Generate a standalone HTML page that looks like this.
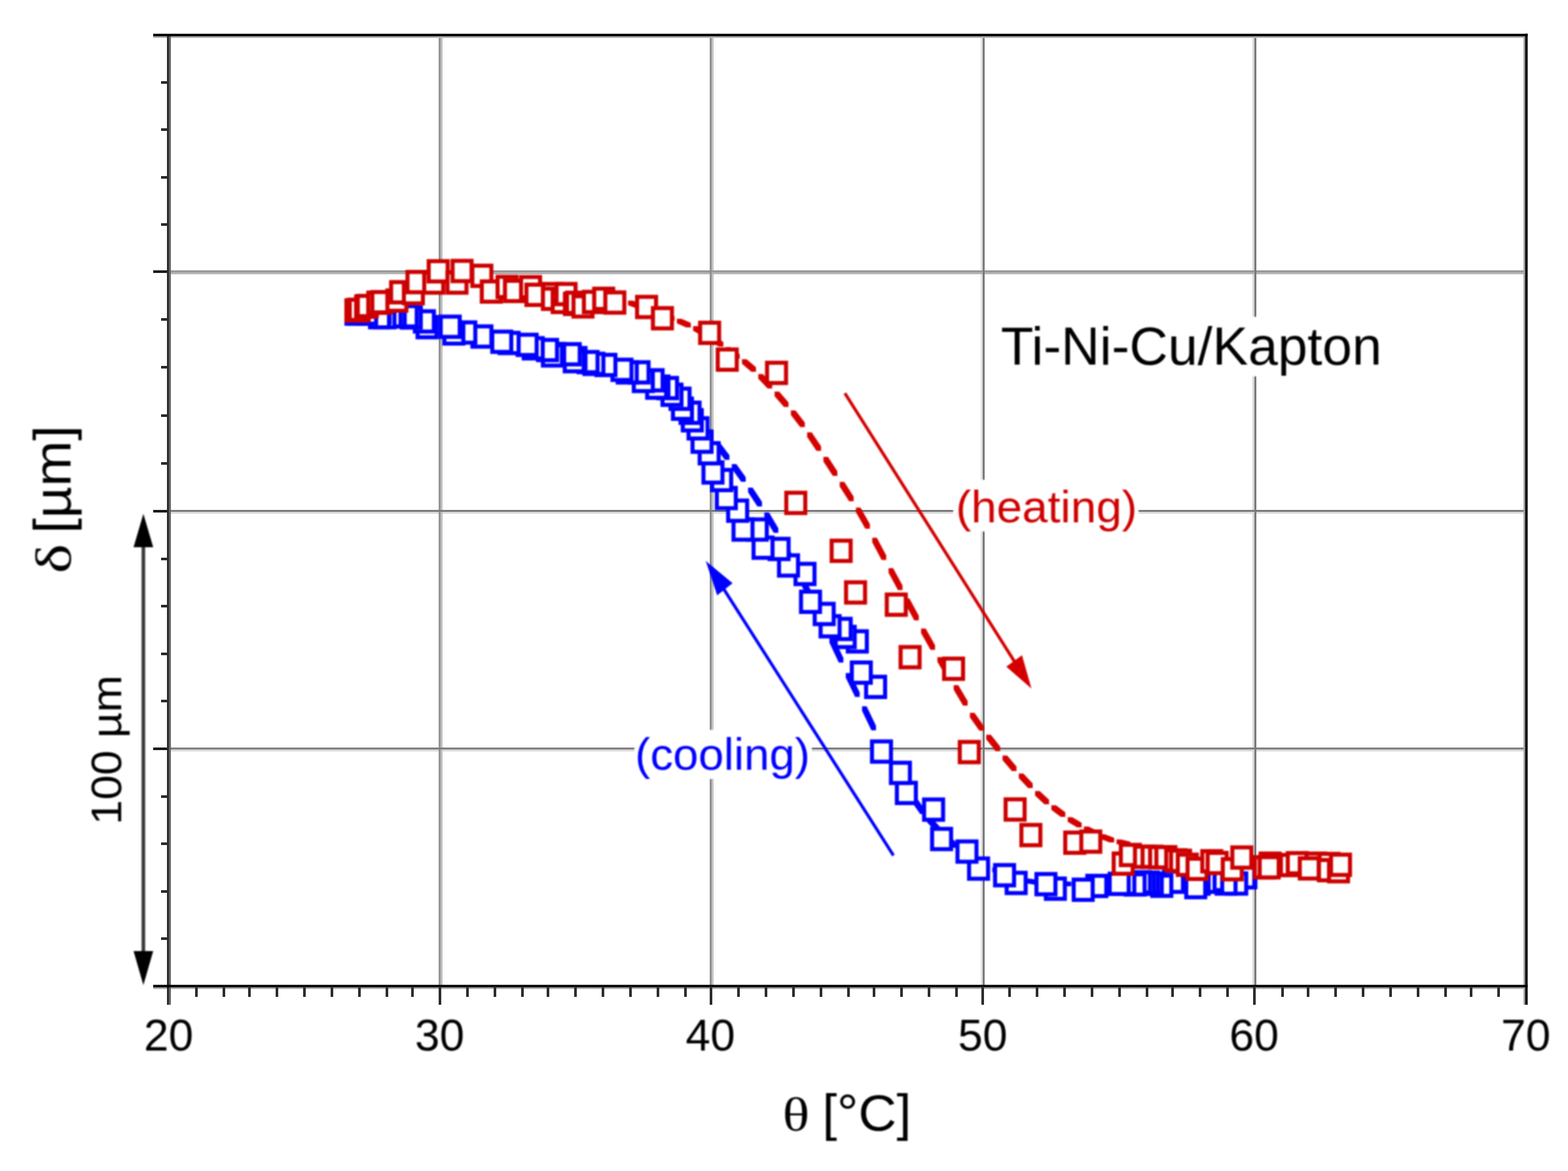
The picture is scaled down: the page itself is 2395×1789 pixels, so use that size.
<!DOCTYPE html>
<html lang="en">
<head>
<meta charset="utf-8">
<title>Ti-Ni-Cu/Kapton deflection vs temperature</title>
<style>
html, body { margin: 0; padding: 0; background: #ffffff; }
body { width: 2395px; height: 1789px; overflow: hidden; }
svg { display: block; }
text { white-space: pre; }
</style>
</head>
<body>
<svg width="2395" height="1789" viewBox="0 0 2395 1789">
<defs><filter id="soften" color-interpolation-filters="sRGB" x="0" y="0" width="2395" height="1789" filterUnits="userSpaceOnUse"><feGaussianBlur stdDeviation="0.9"/></filter></defs>
<rect x="0" y="0" width="2395" height="1789" fill="#ffffff"/>
<g id="grid" shape-rendering="crispEdges">
<rect x="1498" y="55" width="3" height="1451" fill="#e0e0e0"/>
<rect x="258" y="782" width="2072" height="3" fill="#dcdcdc"/>
<rect x="1913" y="55" width="3" height="1451" fill="#d8d8d8"/>
<rect x="258" y="1145" width="2072" height="3" fill="#d8d8d8"/>
<rect x="1087" y="55" width="3" height="1451" fill="#c4c4c4"/>
<rect x="673" y="55" width="3" height="1451" fill="#c0c0c0"/>
<rect x="258" y="416" width="2072" height="3" fill="#b4b4b4"/>
<rect x="258" y="413" width="2072" height="3" fill="#999999"/>
<rect x="670" y="55" width="3" height="1451" fill="#949494"/>
<rect x="1084" y="55" width="3" height="1451" fill="#909090"/>
<rect x="258" y="1142" width="2072" height="3" fill="#808080"/>
<rect x="258" y="779" width="2072" height="3" fill="#7c7c7c"/>
<rect x="1501" y="55" width="3" height="1451" fill="#7a7a7a"/>
<rect x="1916" y="55" width="3" height="1451" fill="#7a7a7a"/>
</g>
<g id="plot" filter="url(#soften)">
<g id="cooling-fit" fill="#0000ff">
<polygon points="1043.1,607.8 1050.1,607.8 1064.4,627.8 1064.4,634.8 1057.4,634.8 1043.1,614.8"/>
<polygon points="1068.0,642.6 1075.0,642.6 1089.3,662.3 1089.3,669.3 1082.3,669.3 1068.0,649.6"/>
<polygon points="1092.8,676.4 1099.8,676.4 1114.2,695.4 1114.2,702.4 1107.2,702.4 1092.8,683.4"/>
<polygon points="1117.7,709.1 1124.7,709.1 1139.0,729.0 1139.0,736.0 1132.0,736.0 1117.7,716.1"/>
<polygon points="1142.6,745.0 1149.6,745.0 1163.9,766.7 1163.9,773.7 1156.9,773.7 1142.6,752.0"/>
<polygon points="1167.5,782.7 1174.5,782.7 1188.8,807.1 1188.8,814.1 1181.8,814.1 1167.5,789.7"/>
<polygon points="1192.3,827.1 1199.3,827.1 1213.6,854.1 1213.6,861.1 1206.6,861.1 1192.3,834.1"/>
<polygon points="1217.2,874.0 1224.2,874.0 1238.5,901.8 1238.5,908.8 1231.5,908.8 1217.2,881.0"/>
<polygon points="1242.1,923.6 1249.1,923.6 1263.4,953.1 1263.4,960.1 1256.4,960.1 1242.1,930.6"/>
<polygon points="1266.9,974.9 1273.9,974.9 1288.2,1005.2 1288.2,1012.2 1281.2,1012.2 1266.9,981.9"/>
<polygon points="1291.8,1028.2 1298.8,1028.2 1313.1,1057.8 1313.1,1064.8 1306.1,1064.8 1291.8,1035.2"/>
<polygon points="1316.7,1078.9 1323.7,1078.9 1338.0,1108.7 1338.0,1115.7 1331.0,1115.7 1316.7,1085.9"/>
<polygon points="1341.5,1131.5 1348.5,1131.5 1362.9,1158.5 1362.9,1165.5 1355.9,1165.5 1341.5,1138.5"/>
<polygon points="1366.4,1175.7 1373.4,1175.7 1387.7,1199.0 1387.7,1206.0 1380.7,1206.0 1366.4,1182.7"/>
<polygon points="1391.3,1216.2 1398.3,1216.2 1412.6,1236.8 1412.6,1243.8 1405.6,1243.8 1391.3,1223.2"/>
<polygon points="1416.2,1249.5 1423.2,1249.5 1437.5,1264.9 1437.5,1271.9 1430.5,1271.9 1416.2,1256.5"/>
<polygon points="1441.0,1275.8 1448.0,1275.8 1462.3,1288.3 1462.3,1295.3 1455.3,1295.3 1441.0,1282.8"/>
<polygon points="1465.9,1296.4 1472.9,1296.4 1487.2,1306.6 1487.2,1313.6 1480.2,1313.6 1465.9,1303.4"/>
<polygon points="1490.8,1312.6 1497.8,1312.6 1512.1,1320.7 1512.1,1327.7 1505.1,1327.7 1490.8,1319.6"/>
<polygon points="1515.6,1325.2 1522.6,1325.2 1536.9,1330.9 1536.9,1337.9 1529.9,1337.9 1515.6,1332.2"/>
<polygon points="1540.5,1334.7 1547.5,1334.7 1561.8,1339.0 1561.8,1346.0 1554.8,1346.0 1540.5,1341.7"/>
<polygon points="1565.4,1342.2 1572.4,1342.2 1586.7,1344.4 1586.7,1351.4 1579.7,1351.4 1565.4,1349.2"/>
<polygon points="1590.2,1345.0 1597.2,1345.0 1611.6,1345.7 1611.6,1352.7 1604.6,1352.7 1590.2,1352.0"/>
<polygon points="1615.1,1346.3 1622.1,1346.3 1636.4,1347.0 1636.4,1354.0 1629.4,1354.0 1615.1,1353.3"/>
<polygon points="1640.0,1347.1 1647.0,1347.1 1661.3,1347.2 1661.3,1354.2 1654.3,1354.2 1640.0,1354.1"/>
<polygon points="1664.9,1347.3 1671.9,1347.3 1686.2,1347.4 1686.2,1354.4 1679.2,1354.4 1664.9,1354.3"/>
<polygon points="1689.7,1347.5 1696.7,1347.5 1711.0,1347.3 1711.0,1354.3 1704.0,1354.3 1689.7,1354.5"/>
<polygon points="1714.6,1347.0 1721.6,1347.0 1735.9,1346.6 1735.9,1353.6 1728.9,1353.6 1714.6,1354.0"/>
<polygon points="1739.5,1346.3 1746.5,1346.3 1760.8,1345.9 1760.8,1352.9 1753.8,1352.9 1739.5,1353.3"/>
<polygon points="1764.3,1345.6 1771.3,1345.6 1785.6,1345.3 1785.6,1352.3 1778.6,1352.3 1764.3,1352.6"/>
<polygon points="1789.2,1345.0 1796.2,1345.0 1810.5,1344.6 1810.5,1351.6 1803.5,1351.6 1789.2,1352.0"/>
<polygon points="1814.1,1344.3 1821.1,1344.3 1835.4,1343.9 1835.4,1350.9 1828.4,1350.9 1814.1,1351.3"/>
<polygon points="1838.9,1343.6 1845.9,1343.6 1860.2,1343.2 1860.2,1350.2 1853.2,1350.2 1838.9,1350.6"/>
<polygon points="1863.8,1342.9 1870.8,1342.9 1885.1,1342.5 1885.1,1349.5 1878.1,1349.5 1863.8,1349.9"/>
</g>
<g id="heating-fit" fill="#d40000">
<polygon points="934.4,451.3 941.4,451.3 955.7,455.9 955.7,462.9 948.7,462.9 934.4,458.3"/>
<polygon points="959.3,459.3 966.3,459.3 980.6,464.5 980.6,471.5 973.6,471.5 959.3,466.3"/>
<polygon points="984.1,468.5 991.1,468.5 1005.4,473.8 1005.4,480.8 998.4,480.8 984.1,475.5"/>
<polygon points="1009.0,477.7 1016.0,477.7 1030.3,483.1 1030.3,490.1 1023.3,490.1 1009.0,484.7"/>
<polygon points="1033.9,487.0 1040.9,487.0 1055.2,493.2 1055.2,500.2 1048.2,500.2 1033.9,494.0"/>
<polygon points="1058.7,498.3 1065.7,498.3 1080.0,506.4 1080.0,513.4 1073.0,513.4 1058.7,505.3"/>
<polygon points="1083.6,513.2 1090.6,513.2 1104.9,522.5 1104.9,529.5 1097.9,529.5 1083.6,520.2"/>
<polygon points="1108.5,530.3 1115.5,530.3 1129.8,540.9 1129.8,547.9 1122.8,547.9 1108.5,537.3"/>
<polygon points="1133.3,548.7 1140.3,548.7 1154.7,561.0 1154.7,568.0 1147.7,568.0 1133.3,555.7"/>
<polygon points="1158.2,571.4 1165.2,571.4 1179.5,586.5 1179.5,593.5 1172.5,593.5 1158.2,578.4"/>
<polygon points="1183.1,598.3 1190.1,598.3 1204.4,614.7 1204.4,621.7 1197.4,621.7 1183.1,605.3"/>
<polygon points="1208.0,627.1 1215.0,627.1 1229.3,645.5 1229.3,652.5 1222.3,652.5 1208.0,634.1"/>
<polygon points="1232.8,660.5 1239.8,660.5 1254.1,681.7 1254.1,688.7 1247.1,688.7 1232.8,667.5"/>
<polygon points="1257.7,698.0 1264.7,698.0 1279.0,720.0 1279.0,727.0 1272.0,727.0 1257.7,705.0"/>
<polygon points="1282.6,736.3 1289.6,736.3 1303.9,758.7 1303.9,765.7 1296.9,765.7 1282.6,743.3"/>
<polygon points="1307.4,775.6 1314.4,775.6 1328.7,800.7 1328.7,807.7 1321.7,807.7 1307.4,782.6"/>
<polygon points="1332.3,821.4 1339.3,821.4 1353.6,848.5 1353.6,855.5 1346.6,855.5 1332.3,828.4"/>
<polygon points="1357.2,868.1 1364.2,868.1 1378.5,894.6 1378.5,901.6 1371.5,901.6 1357.2,875.1"/>
<polygon points="1382.0,914.2 1389.0,914.2 1403.4,940.7 1403.4,947.7 1396.4,947.7 1382.0,921.2"/>
<polygon points="1406.9,960.3 1413.9,960.3 1428.2,985.8 1428.2,992.8 1421.2,992.8 1406.9,967.3"/>
<polygon points="1431.8,1004.0 1438.8,1004.0 1453.1,1028.6 1453.1,1035.6 1446.1,1035.6 1431.8,1011.0"/>
<polygon points="1456.7,1046.7 1463.7,1046.7 1478.0,1071.1 1478.0,1078.1 1471.0,1078.1 1456.7,1053.7"/>
<polygon points="1481.5,1088.9 1488.5,1088.9 1502.8,1109.3 1502.8,1116.3 1495.8,1116.3 1481.5,1095.9"/>
<polygon points="1506.4,1122.4 1513.4,1122.4 1527.7,1140.5 1527.7,1147.5 1520.7,1147.5 1506.4,1129.4"/>
<polygon points="1531.3,1154.2 1538.3,1154.2 1552.6,1170.9 1552.6,1177.9 1545.6,1177.9 1531.3,1161.2"/>
<polygon points="1556.1,1181.8 1563.1,1181.8 1577.4,1197.0 1577.4,1204.0 1570.4,1204.0 1556.1,1188.8"/>
<polygon points="1581.0,1208.5 1588.0,1208.5 1602.3,1221.7 1602.3,1228.7 1595.3,1228.7 1581.0,1215.5"/>
<polygon points="1605.9,1230.2 1612.9,1230.2 1627.2,1240.9 1627.2,1247.9 1620.2,1247.9 1605.9,1237.2"/>
<polygon points="1630.8,1248.4 1637.8,1248.4 1652.1,1257.1 1652.1,1264.1 1645.1,1264.1 1630.8,1255.4"/>
<polygon points="1655.6,1262.8 1662.6,1262.8 1676.9,1269.8 1676.9,1276.8 1669.9,1276.8 1655.6,1269.8"/>
<polygon points="1680.5,1274.5 1687.5,1274.5 1701.8,1279.9 1701.8,1286.9 1694.8,1286.9 1680.5,1281.5"/>
<polygon points="1705.4,1282.6 1712.4,1282.6 1726.7,1286.0 1726.7,1293.0 1719.7,1293.0 1705.4,1289.6"/>
</g>
<g id="cooling-pts" fill="#ffffff" stroke="#0000ff" stroke-width="6.2">
<rect x="1888.5" y="1324.5" width="29" height="31"/>
<rect x="1886.8" y="1324.8" width="29" height="31"/>
<rect x="1874.5" y="1334.3" width="29" height="31"/>
<rect x="1858.2" y="1334.3" width="29" height="31"/>
<rect x="1837.8" y="1328.9" width="29" height="31"/>
<rect x="1826.2" y="1331.6" width="29" height="31"/>
<rect x="1817.1" y="1334.5" width="29" height="31"/>
<rect x="1811.9" y="1339.8" width="29" height="31"/>
<rect x="1777.9" y="1331.6" width="29" height="31"/>
<rect x="1760.1" y="1337.7" width="29" height="31"/>
<rect x="1745.5" y="1334.5" width="29" height="31"/>
<rect x="1739.5" y="1333.0" width="29" height="31"/>
<rect x="1733.5" y="1334.5" width="29" height="31"/>
<rect x="1727.5" y="1332.5" width="29" height="31"/>
<rect x="1719.3" y="1335.7" width="29" height="31"/>
<rect x="1703.6" y="1334.3" width="29" height="31"/>
<rect x="1695.0" y="1334.8" width="29" height="31"/>
<rect x="1660.8" y="1338.0" width="29" height="31"/>
<rect x="1640.0" y="1343.8" width="29" height="31"/>
<rect x="1597.5" y="1342.2" width="29" height="31"/>
<rect x="1583.1" y="1335.3" width="29" height="31"/>
<rect x="1537.6" y="1333.4" width="29" height="31"/>
<rect x="1519.9" y="1321.6" width="29" height="31"/>
<rect x="1480.2" y="1311.5" width="29" height="31"/>
<rect x="1462.5" y="1285.5" width="29" height="31"/>
<rect x="1423.7" y="1266.3" width="29" height="31"/>
<rect x="1411.5" y="1221.4" width="29" height="31"/>
<rect x="1369.9" y="1195.9" width="29" height="31"/>
<rect x="1360.8" y="1165.3" width="29" height="31"/>
<rect x="1331.9" y="1132.7" width="29" height="31"/>
<rect x="1322.9" y="1033.9" width="29" height="31"/>
<rect x="1301.1" y="1012.1" width="29" height="31"/>
<rect x="1295.0" y="964.4" width="29" height="31"/>
<rect x="1276.5" y="957.6" width="29" height="31"/>
<rect x="1270.4" y="945.4" width="29" height="31"/>
<rect x="1253.4" y="941.3" width="29" height="31"/>
<rect x="1244.4" y="922.5" width="29" height="31"/>
<rect x="1223.5" y="903.9" width="29" height="31"/>
<rect x="1215.1" y="861.4" width="29" height="31"/>
<rect x="1189.9" y="848.4" width="29" height="31"/>
<rect x="1175.5" y="823.2" width="29" height="31"/>
<rect x="1151.0" y="821.2" width="29" height="31"/>
<rect x="1142.2" y="793.5" width="29" height="31"/>
<rect x="1120.4" y="793.5" width="29" height="31"/>
<rect x="1112.2" y="764.7" width="29" height="31"/>
<rect x="1094.9" y="745.4" width="29" height="31"/>
<rect x="1087.8" y="717.9" width="29" height="31"/>
<rect x="1074.5" y="706.3" width="29" height="31"/>
<rect x="1068.7" y="677.0" width="29" height="31"/>
<rect x="1057.8" y="659.3" width="29" height="31"/>
<rect x="1051.7" y="638.9" width="29" height="31"/>
<rect x="1042.9" y="626.6" width="29" height="31"/>
<rect x="1039.5" y="615.1" width="29" height="31"/>
<rect x="1027.9" y="608.9" width="29" height="31"/>
<rect x="1024.2" y="593.7" width="29" height="31"/>
<rect x="1011.9" y="587.6" width="29" height="31"/>
<rect x="1005.1" y="577.4" width="29" height="31"/>
<rect x="992.0" y="575.2" width="29" height="31"/>
<rect x="988.5" y="576.7" width="29" height="31"/>
<rect x="983.1" y="565.5" width="29" height="31"/>
<rect x="968.1" y="566.5" width="29" height="31"/>
<rect x="961.6" y="553.4" width="29" height="31"/>
<rect x="943.6" y="553.4" width="29" height="31"/>
<rect x="935.5" y="549.5" width="29" height="31"/>
<rect x="911.0" y="542.1" width="29" height="31"/>
<rect x="892.6" y="540.4" width="29" height="31"/>
<rect x="883.7" y="537.7" width="29" height="31"/>
<rect x="865.3" y="531.6" width="29" height="31"/>
<rect x="862.6" y="536.3" width="29" height="31"/>
<rect x="856.5" y="525.7" width="29" height="31"/>
<rect x="832.7" y="525.5" width="29" height="31"/>
<rect x="829.3" y="527.5" width="29" height="31"/>
<rect x="821.8" y="519.3" width="29" height="31"/>
<rect x="800.0" y="516.6" width="29" height="31"/>
<rect x="790.7" y="511.4" width="29" height="31"/>
<rect x="763.2" y="508.5" width="29" height="31"/>
<rect x="751.9" y="506.6" width="29" height="31"/>
<rect x="721.6" y="498.6" width="29" height="31"/>
<rect x="697.0" y="492.5" width="29" height="31"/>
<rect x="678.7" y="493.9" width="29" height="31"/>
<rect x="673.2" y="483.7" width="29" height="31"/>
<rect x="637.8" y="484.3" width="29" height="31"/>
<rect x="633.7" y="475.5" width="29" height="31"/>
<rect x="613.7" y="469.5" width="29" height="31"/>
<rect x="607.5" y="467.7" width="29" height="31"/>
<rect x="589.2" y="468.0" width="29" height="31"/>
<rect x="582.8" y="467.7" width="29" height="31"/>
<rect x="573.5" y="469.1" width="29" height="31"/>
<rect x="566.1" y="461.9" width="29" height="31"/>
<rect x="565.2" y="469.1" width="29" height="31"/>
<rect x="545.5" y="463.5" width="29" height="31"/>
<rect x="533.5" y="463.5" width="29" height="31"/>
<rect x="529.1" y="463.5" width="29" height="31"/>
</g>
<g id="heating-pts" fill="#ffffff" stroke="#cc0000" stroke-width="6.2">
<rect x="529.1" y="458.8" width="29" height="31"/>
<rect x="531.5" y="458.5" width="29" height="31"/>
<rect x="534.2" y="457.8" width="29" height="31"/>
<rect x="544.0" y="453.0" width="29" height="31"/>
<rect x="546.5" y="452.0" width="29" height="31"/>
<rect x="562.5" y="447.0" width="29" height="31"/>
<rect x="568.7" y="446.2" width="29" height="31"/>
<rect x="591.7" y="443.7" width="29" height="31"/>
<rect x="597.4" y="431.0" width="29" height="31"/>
<rect x="616.9" y="432.5" width="29" height="31"/>
<rect x="622.4" y="415.5" width="29" height="31"/>
<rect x="648.0" y="416.2" width="29" height="31"/>
<rect x="654.8" y="399.0" width="29" height="31"/>
<rect x="683.5" y="416.2" width="29" height="31"/>
<rect x="691.3" y="398.5" width="29" height="31"/>
<rect x="721.5" y="405.9" width="29" height="31"/>
<rect x="735.9" y="429.9" width="29" height="31"/>
<rect x="760.0" y="422.8" width="29" height="31"/>
<rect x="771.3" y="429.0" width="29" height="31"/>
<rect x="795.9" y="423.2" width="29" height="31"/>
<rect x="804.1" y="434.9" width="29" height="31"/>
<rect x="829.9" y="433.8" width="29" height="31"/>
<rect x="829.3" y="441.0" width="29" height="31"/>
<rect x="844.2" y="445.8" width="29" height="31"/>
<rect x="850.1" y="433.8" width="29" height="31"/>
<rect x="862.9" y="448.8" width="29" height="31"/>
<rect x="866.0" y="447.1" width="29" height="31"/>
<rect x="876.0" y="452.6" width="29" height="31"/>
<rect x="891.9" y="445.8" width="29" height="31"/>
<rect x="907.6" y="441.0" width="29" height="31"/>
<rect x="924.6" y="446.7" width="29" height="31"/>
<rect x="973.1" y="453.5" width="29" height="31"/>
<rect x="997.3" y="470.7" width="29" height="31"/>
<rect x="1069.4" y="493.0" width="29" height="31"/>
<rect x="1096.3" y="533.9" width="29" height="31"/>
<rect x="1171.6" y="554.2" width="29" height="31"/>
<rect x="1201.0" y="752.8" width="29" height="31"/>
<rect x="1270.3" y="826.0" width="29" height="31"/>
<rect x="1292.3" y="889.6" width="29" height="31"/>
<rect x="1354.5" y="908.3" width="29" height="31"/>
<rect x="1375.6" y="988.5" width="29" height="31"/>
<rect x="1442.0" y="1006.2" width="29" height="31"/>
<rect x="1466.0" y="1133.5" width="29" height="31"/>
<rect x="1536.0" y="1221.2" width="29" height="31"/>
<rect x="1560.1" y="1260.3" width="29" height="31"/>
<rect x="1627.1" y="1271.9" width="29" height="31"/>
<rect x="1651.6" y="1270.3" width="29" height="31"/>
<rect x="1701.1" y="1303.9" width="29" height="31"/>
<rect x="1712.0" y="1290.7" width="29" height="31"/>
<rect x="1733.6" y="1293.5" width="29" height="31"/>
<rect x="1745.2" y="1293.5" width="29" height="31"/>
<rect x="1756.7" y="1294.2" width="29" height="31"/>
<rect x="1766.3" y="1294.2" width="29" height="31"/>
<rect x="1781.3" y="1298.9" width="29" height="31"/>
<rect x="1788.7" y="1299.6" width="29" height="31"/>
<rect x="1799.0" y="1305.7" width="29" height="31"/>
<rect x="1813.9" y="1311.9" width="29" height="31"/>
<rect x="1836.4" y="1300.3" width="29" height="31"/>
<rect x="1844.6" y="1303.0" width="29" height="31"/>
<rect x="1867.7" y="1312.5" width="29" height="31"/>
<rect x="1882.3" y="1294.6" width="29" height="31"/>
<rect x="1925.5" y="1304.0" width="29" height="31"/>
<rect x="1916.7" y="1309.5" width="29" height="31"/>
<rect x="1924.1" y="1309.5" width="29" height="31"/>
<rect x="1956.5" y="1306.1" width="29" height="31"/>
<rect x="1967.0" y="1303.3" width="29" height="31"/>
<rect x="1995.5" y="1304.0" width="29" height="31"/>
<rect x="1985.3" y="1311.2" width="29" height="31"/>
<rect x="2015.5" y="1304.5" width="29" height="31"/>
<rect x="2014.6" y="1313.9" width="29" height="31"/>
<rect x="2030.0" y="1315.5" width="29" height="31"/>
<rect x="2033.0" y="1305.7" width="29" height="31"/>
</g>
<g id="labels" font-family="'Liberation Sans', sans-serif">
<rect x="1520" y="484" width="595" height="91" fill="#ffffff"/>
<rect x="1456" y="733" width="283" height="79" fill="#ffffff"/>
<rect x="969" y="1115" width="271" height="75" fill="#ffffff"/>
<text font-size="68" text-anchor="middle" fill="#000000" x="257.5" y="1605">20</text>
<text font-size="68" text-anchor="middle" fill="#000000" x="671.5" y="1605">30</text>
<text font-size="68" text-anchor="middle" fill="#000000" x="1085" y="1605">40</text>
<text font-size="68" text-anchor="middle" fill="#000000" x="1501" y="1605">50</text>
<text font-size="68" text-anchor="middle" fill="#000000" x="1915.5" y="1605">60</text>
<text font-size="68" text-anchor="middle" fill="#000000" x="2330.5" y="1605">70</text>
<text fill="#000000" font-size="76" y="1727"><tspan x="1195.3" font-size="71" textLength="41.2" lengthAdjust="spacingAndGlyphs" font-family="'Liberation Serif', 'DejaVu Serif', serif">θ</tspan><tspan> </tspan><tspan x="1256" font-size="77" textLength="135.9" lengthAdjust="spacingAndGlyphs">[°C]</tspan></text>
<text fill="#000000" font-size="76" y="0" transform="translate(107.7,0) rotate(-90)"><tspan x="-876" font-size="76" textLength="45.1" lengthAdjust="spacingAndGlyphs" font-family="'Liberation Serif', 'DejaVu Serif', serif">δ</tspan><tspan> </tspan><tspan x="-815.1" font-size="80" textLength="165.1" lengthAdjust="spacingAndGlyphs">[µm]</tspan></text>
<text font-size="65" textLength="228.6" lengthAdjust="spacingAndGlyphs" fill="#000000" transform="translate(185.1,1260) rotate(-90)" x="0" y="0">100 µm</text>
<text font-size="81" textLength="581.7" lengthAdjust="spacingAndGlyphs" fill="#000000" x="1528.8" y="557">Ti-Ni-Cu/Kapton</text>
<text font-size="68" fill="#d00000" textLength="276.8" lengthAdjust="spacingAndGlyphs" x="1460" y="797.6">(heating)</text>
<text font-size="68" fill="#0000ff" textLength="267.1" lengthAdjust="spacingAndGlyphs" x="970" y="1176.3">(cooling)</text>
</g>
<g id="arrows">
<path d="M219 830 L219 1460" stroke="#3a3a3a" stroke-width="5.5" fill="none"/>
<path d="M219 785 L204 836 L234 836 Z" fill="#000"/>
<path d="M219 1505 L204 1453 L234 1453 Z" fill="#000"/>
<path d="M1290.5 600.7 L1551 1013" stroke="#d40000" stroke-width="4.8" fill="none"/>
<path d="M1575.5 1052 L1537 1018.5 L1561 1001 Z" fill="#d40000"/>
<path d="M1364.7 1307 L1103 896" stroke="#0000ff" stroke-width="4.8" fill="none"/>
<path d="M1078 857 L1095.4 909.5 L1119 891 Z" fill="#0000ff"/>
</g>
</g>
<g id="axes" shape-rendering="crispEdges">
<rect x="246" y="124" width="10" height="4" fill="#2a2a2a"/>
<rect x="246" y="196" width="10" height="4" fill="#2a2a2a"/>
<rect x="246" y="269" width="10" height="4" fill="#2a2a2a"/>
<rect x="246" y="341" width="10" height="4" fill="#2a2a2a"/>
<rect x="234" y="413" width="22" height="4" fill="#1a1a1a"/>
<rect x="246" y="486" width="10" height="4" fill="#2a2a2a"/>
<rect x="246" y="559" width="10" height="4" fill="#2a2a2a"/>
<rect x="246" y="633" width="10" height="4" fill="#2a2a2a"/>
<rect x="246" y="706" width="10" height="4" fill="#2a2a2a"/>
<rect x="234" y="779" width="22" height="4" fill="#1a1a1a"/>
<rect x="246" y="852" width="10" height="4" fill="#2a2a2a"/>
<rect x="246" y="924" width="10" height="4" fill="#2a2a2a"/>
<rect x="246" y="997" width="10" height="4" fill="#2a2a2a"/>
<rect x="246" y="1069" width="10" height="4" fill="#2a2a2a"/>
<rect x="234" y="1142" width="22" height="4" fill="#1a1a1a"/>
<rect x="246" y="1215" width="10" height="4" fill="#2a2a2a"/>
<rect x="246" y="1287" width="10" height="4" fill="#2a2a2a"/>
<rect x="246" y="1360" width="10" height="4" fill="#2a2a2a"/>
<rect x="246" y="1432" width="10" height="4" fill="#2a2a2a"/>
<rect x="234" y="55" width="2096" height="3" fill="#b4b4b4"/>
<rect x="234" y="1508" width="2096" height="3" fill="#b0b0b0"/>
<rect x="2327" y="55" width="3" height="1480" fill="#a8a8a8"/>
<rect x="255" y="52" width="3" height="1483" fill="#2c2c2c"/>
<rect x="258" y="55" width="3" height="1480" fill="#666666"/>
</g><g id="frame">
<rect x="234" y="51.6" width="2099.4" height="3.799999999999997" fill="#000000"/>
<rect x="234" y="1504.6" width="2099.4" height="3.800000000000182" fill="#000000"/>
<rect x="2329.6" y="51.6" width="3.800000000000182" height="1483.4" fill="#000000"/>
</g><g id="xticks" shape-rendering="crispEdges">
<rect x="297.7" y="1507" width="4.600000000000023" height="16" fill="#2c2c2c"/>
<rect x="339.7" y="1507" width="4.600000000000023" height="16" fill="#2c2c2c"/>
<rect x="378.7" y="1507" width="4.600000000000023" height="16" fill="#2c2c2c"/>
<rect x="420.7" y="1507" width="4.600000000000023" height="16" fill="#2c2c2c"/>
<rect x="462.7" y="1507" width="4.600000000000023" height="16" fill="#2c2c2c"/>
<rect x="504.7" y="1507" width="4.600000000000023" height="16" fill="#2c2c2c"/>
<rect x="546.7" y="1507" width="4.599999999999909" height="16" fill="#2c2c2c"/>
<rect x="588.7" y="1507" width="4.599999999999909" height="16" fill="#2c2c2c"/>
<rect x="627.7" y="1507" width="4.599999999999909" height="16" fill="#2c2c2c"/>
<rect x="711.7" y="1507" width="4.599999999999909" height="16" fill="#2c2c2c"/>
<rect x="753.7" y="1507" width="4.599999999999909" height="16" fill="#2c2c2c"/>
<rect x="795.7" y="1507" width="4.599999999999909" height="16" fill="#2c2c2c"/>
<rect x="834.7" y="1507" width="4.599999999999909" height="16" fill="#2c2c2c"/>
<rect x="876.7" y="1507" width="4.599999999999909" height="16" fill="#2c2c2c"/>
<rect x="918.7" y="1507" width="4.599999999999909" height="16" fill="#2c2c2c"/>
<rect x="960.7" y="1507" width="4.599999999999909" height="16" fill="#2c2c2c"/>
<rect x="1002.7" y="1507" width="4.599999999999909" height="16" fill="#2c2c2c"/>
<rect x="1044.7" y="1507" width="4.599999999999909" height="16" fill="#2c2c2c"/>
<rect x="1125.7" y="1507" width="4.599999999999909" height="16" fill="#2c2c2c"/>
<rect x="1167.7" y="1507" width="4.599999999999909" height="16" fill="#2c2c2c"/>
<rect x="1209.7" y="1507" width="4.599999999999909" height="16" fill="#2c2c2c"/>
<rect x="1251.7" y="1507" width="4.599999999999909" height="16" fill="#2c2c2c"/>
<rect x="1293.7" y="1507" width="4.599999999999909" height="16" fill="#2c2c2c"/>
<rect x="1332.7" y="1507" width="4.599999999999909" height="16" fill="#2c2c2c"/>
<rect x="1374.7" y="1507" width="4.599999999999909" height="16" fill="#2c2c2c"/>
<rect x="1416.7" y="1507" width="4.599999999999909" height="16" fill="#2c2c2c"/>
<rect x="1458.7" y="1507" width="4.599999999999909" height="16" fill="#2c2c2c"/>
<rect x="1539.7" y="1507" width="4.599999999999909" height="16" fill="#2c2c2c"/>
<rect x="1581.7" y="1507" width="4.599999999999909" height="16" fill="#2c2c2c"/>
<rect x="1623.7" y="1507" width="4.599999999999909" height="16" fill="#2c2c2c"/>
<rect x="1665.7" y="1507" width="4.599999999999909" height="16" fill="#2c2c2c"/>
<rect x="1707.7" y="1507" width="4.599999999999909" height="16" fill="#2c2c2c"/>
<rect x="1749.7" y="1507" width="4.599999999999909" height="16" fill="#2c2c2c"/>
<rect x="1788.7" y="1507" width="4.599999999999909" height="16" fill="#2c2c2c"/>
<rect x="1830.7" y="1507" width="4.599999999999909" height="16" fill="#2c2c2c"/>
<rect x="1872.7" y="1507" width="4.599999999999909" height="16" fill="#2c2c2c"/>
<rect x="1956.7" y="1507" width="4.599999999999909" height="16" fill="#2c2c2c"/>
<rect x="1995.7" y="1507" width="4.599999999999909" height="16" fill="#2c2c2c"/>
<rect x="2037.7" y="1507" width="4.599999999999909" height="16" fill="#2c2c2c"/>
<rect x="2079.7" y="1507" width="4.600000000000364" height="16" fill="#2c2c2c"/>
<rect x="2121.7" y="1507" width="4.600000000000364" height="16" fill="#2c2c2c"/>
<rect x="2163.7" y="1507" width="4.600000000000364" height="16" fill="#2c2c2c"/>
<rect x="2205.7" y="1507" width="4.600000000000364" height="16" fill="#2c2c2c"/>
<rect x="2244.7" y="1507" width="4.600000000000364" height="16" fill="#2c2c2c"/>
<rect x="2286.7" y="1507" width="4.600000000000364" height="16" fill="#2c2c2c"/>
<rect x="669.6" y="1507" width="4.7999999999999545" height="28" fill="#2c2c2c"/>
<rect x="1083.6" y="1507" width="4.800000000000182" height="28" fill="#2c2c2c"/>
<rect x="1498.6" y="1507" width="4.800000000000182" height="28" fill="#2c2c2c"/>
<rect x="1913.6" y="1507" width="4.800000000000182" height="28" fill="#2c2c2c"/>
</g>
</svg>
</body>
</html>
